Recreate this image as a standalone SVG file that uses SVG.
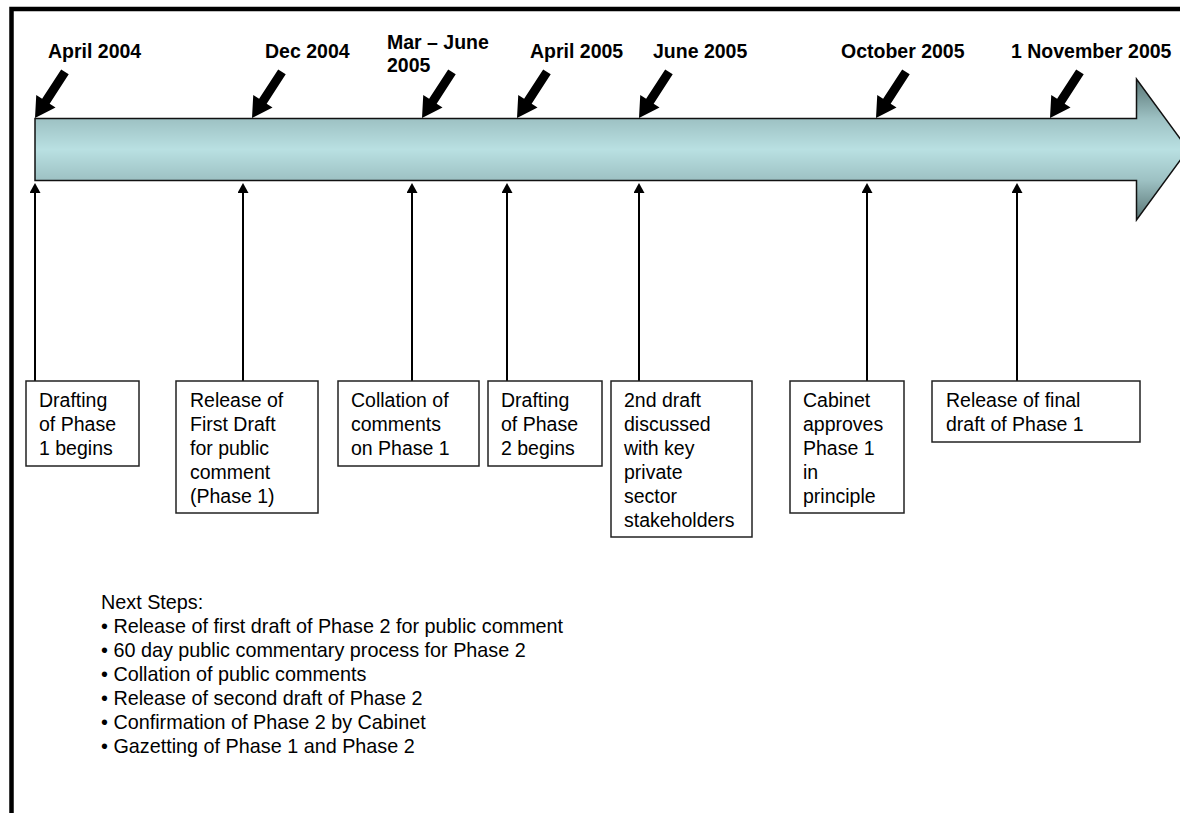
<svg xmlns="http://www.w3.org/2000/svg" width="1180" height="813" viewBox="0 0 1180 813">
  <style>
    .date { font-family: "Liberation Sans", Arial, sans-serif; font-weight: bold; font-size: 19.5px; fill: #000; }
    .box rect { fill: #fff; stroke: #222; stroke-width: 1.5; }
    .box text { font-family: "Liberation Sans", Arial, sans-serif; font-size: 19.5px; fill: #000; }
    .conn line { stroke: #000; stroke-width: 2; }
    .notes { font-family: "Liberation Sans", Arial, sans-serif; font-size: 19.8px; fill: #000; }
  </style>
  <defs>
    <linearGradient id="bandGrad" x1="0" y1="0" x2="0" y2="1">
      <stop offset="0" stop-color="#587474"/>
      <stop offset="0.28" stop-color="#9dc1c3"/>
      <stop offset="0.5" stop-color="#b9e0e2"/>
      <stop offset="0.72" stop-color="#9dc1c3"/>
      <stop offset="1" stop-color="#587474"/>
    </linearGradient>
    <path id="pointer" d="M0,0 L-11.5,-20 L-4.5,-20 L-4.5,-55 L4.5,-55 L4.5,-20 L11.5,-20 Z" fill="#000"/>
    <marker id="up" markerUnits="userSpaceOnUse" viewBox="0 0 10 11" markerWidth="10" markerHeight="11" refX="2" refY="5.5" orient="auto">
      <path d="M0,0 L10,5.5 L0,11 Z" fill="#000"/>
    </marker>
  </defs>

  <rect width="1180" height="813" fill="#fff"/>
  <!-- frame -->
  <rect x="11.5" y="9" width="1200" height="840" fill="none" stroke="#000" stroke-width="4.5"/>

  <!-- timeline arrow -->
  <g id="timeline">
    <path d="M35,118.5 L1136.5,118.5 L1136.5,79 L1188,149.5 L1136.5,220 L1136.5,180.5 L35,180.5 Z" fill="url(#bandGrad)" stroke="#111" stroke-width="1.5"/>
  </g>

  <!-- date pointers and labels -->
  <g id="date-april2004">
    <use href="#pointer" transform="translate(35,118) rotate(33)"/>
    <text class="date" x="48" y="58">April 2004</text>
  </g>
  <g id="date-dec2004">
    <use href="#pointer" transform="translate(252,118) rotate(33)"/>
    <text class="date" x="265" y="58">Dec 2004</text>
  </g>
  <g id="date-marjune2005">
    <use href="#pointer" transform="translate(422,118) rotate(33)"/>
    <text class="date" x="387" y="49">Mar – June</text>
    <text class="date" x="387" y="72">2005</text>
  </g>
  <g id="date-april2005">
    <use href="#pointer" transform="translate(517,118) rotate(33)"/>
    <text class="date" x="530" y="58">April 2005</text>
  </g>
  <g id="date-june2005">
    <use href="#pointer" transform="translate(639,118) rotate(33)"/>
    <text class="date" x="653" y="58">June 2005</text>
  </g>
  <g id="date-oct2005">
    <use href="#pointer" transform="translate(876,118) rotate(33)"/>
    <text class="date" x="841" y="58">October 2005</text>
  </g>
  <g id="date-nov2005">
    <use href="#pointer" transform="translate(1050,118) rotate(33)"/>
    <text class="date" x="1011" y="58">1 November 2005</text>
  </g>

  <!-- connectors -->
  <g id="connectors" class="conn">
    <line x1="35" y1="381" x2="35" y2="191" marker-end="url(#up)"/>
    <line x1="243" y1="381" x2="243" y2="191" marker-end="url(#up)"/>
    <line x1="412" y1="381" x2="412" y2="191" marker-end="url(#up)"/>
    <line x1="507" y1="381" x2="507" y2="191" marker-end="url(#up)"/>
    <line x1="639" y1="381" x2="639" y2="191" marker-end="url(#up)"/>
    <line x1="867" y1="381" x2="867" y2="191" marker-end="url(#up)"/>
    <line x1="1017" y1="381" x2="1017" y2="191" marker-end="url(#up)"/>
  </g>

  <!-- boxes -->
  <g id="box1" class="box">
    <rect x="26" y="381" width="113" height="85"/>
    <text x="39" y="407">Drafting</text>
    <text x="39" y="431">of Phase</text>
    <text x="39" y="455">1 begins</text>
  </g>
  <g id="box2" class="box">
    <rect x="176" y="381" width="142" height="132"/>
    <text x="190" y="407">Release of</text>
    <text x="190" y="431">First Draft</text>
    <text x="190" y="455">for public</text>
    <text x="190" y="479">comment</text>
    <text x="190" y="503">(Phase 1)</text>
  </g>
  <g id="box3" class="box">
    <rect x="338" y="381" width="141" height="85"/>
    <text x="351" y="407">Collation of</text>
    <text x="351" y="431">comments</text>
    <text x="351" y="455">on Phase 1</text>
  </g>
  <g id="box4" class="box">
    <rect x="488" y="381" width="114" height="85"/>
    <text x="501" y="407">Drafting</text>
    <text x="501" y="431">of Phase</text>
    <text x="501" y="455">2 begins</text>
  </g>
  <g id="box5" class="box">
    <rect x="611" y="381" width="141" height="156"/>
    <text x="624" y="407">2nd draft</text>
    <text x="624" y="431">discussed</text>
    <text x="624" y="455">with key</text>
    <text x="624" y="479">private</text>
    <text x="624" y="503">sector</text>
    <text x="624" y="527">stakeholders</text>
  </g>
  <g id="box6" class="box">
    <rect x="790" y="381" width="114" height="132"/>
    <text x="803" y="407">Cabinet</text>
    <text x="803" y="431">approves</text>
    <text x="803" y="455">Phase 1</text>
    <text x="803" y="479">in</text>
    <text x="803" y="503">principle</text>
  </g>
  <g id="box7" class="box">
    <rect x="932" y="381" width="208" height="61"/>
    <text x="946" y="407">Release of final</text>
    <text x="946" y="431">draft of Phase 1</text>
  </g>

  <!-- next steps -->
  <g id="next-steps" class="notes">
    <text x="101" y="609">Next Steps:</text>
    <text x="101" y="633">• Release of first draft of Phase 2 for public comment</text>
    <text x="101" y="657">• 60 day public commentary process for Phase 2</text>
    <text x="101" y="681">• Collation of public comments</text>
    <text x="101" y="705">• Release of second draft of Phase 2</text>
    <text x="101" y="729">• Confirmation of Phase 2 by Cabinet</text>
    <text x="101" y="753">• Gazetting of Phase 1 and Phase 2</text>
  </g>
</svg>
